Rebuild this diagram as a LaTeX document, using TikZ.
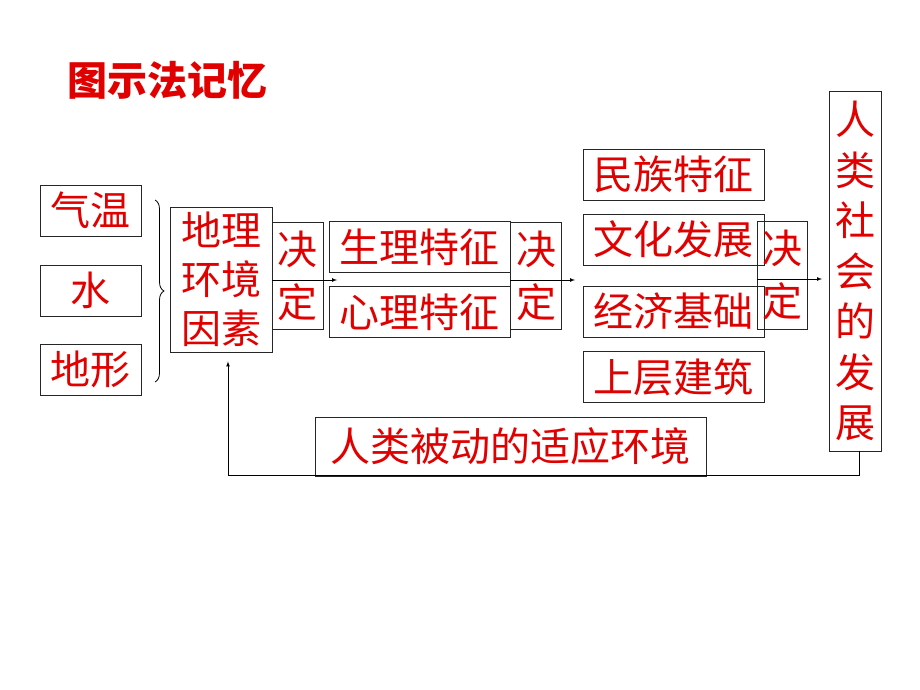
\documentclass[tikz,border=0pt]{standalone}
\usepackage{fontspec}
\usetikzlibrary{positioning,decorations.pathreplacing}
\newfontfamily\cjk{Noto Sans CJK SC}
\definecolor{myred}{RGB}{225,0,0}

\begin{document}
\begin{tikzpicture}[x=1pt,y=-1pt,
  box/.style={draw=black!85,line width=0.9pt,inner sep=0pt,text=myred,
    font=\cjk\fontsize{40}{49}\selectfont,align=center},
  factor/.style={box,minimum width=101pt,minimum height=51pt},
  trait/.style={box,minimum width=181pt,minimum height=51pt},
  decide/.style={box,minimum width=51pt,minimum height=107pt,
    font=\cjk\fontsize{40}{53}\selectfont},
  arr/.style={-latex,line width=0.7pt}
]
\useasboundingbox (0,0) rectangle (920,690);

% the title
\node[text=myred,font=\cjk\bfseries\fontsize{40}{48}\selectfont] (title) at (167,80) {图示法记忆};

% the natural factors
\node[factor] (qiwen) at (90.5,210.5) {气温};
\node[factor] (shui) at (90.5,290.5) {水};
\node[factor] (dixing) at (90.5,369.5) {地形};
\coordinate (bt) at (155,200);
\coordinate (bb) at (155,382);
\draw[decorate,decoration={brace,amplitude=9pt},line width=0.8pt] (bt) -- (bb);

% environment and what it decides
\node[box,minimum width=102pt,minimum height=145pt] (dili) at (221,279.5) {地理\\环境\\因素};
\node[decide] (jd1) at (297.5,275.5) {决\\定};
\node[trait] (shengli) at (419.5,247) {生理特征};
\node[trait] (xinli) at (419.5,312) {心理特征};
\node[decide] (jd2) at (536,275.5) {决\\定};

% the column of social traits
\node[trait] (minzu) at (673.5,174.5) {民族特征};
\node[trait] (wenhua) at (673.5,239.5) {文化发展};
\node[trait] (jingji) at (673.5,311.5) {经济基础};
\node[trait] (shangceng) at (673.5,377) {上层建筑};
\node[decide,minimum width=50pt,minimum height=108pt] (jd3) at (782,275) {决\\定};
\node[box,minimum width=52pt,minimum height=360pt,
  font=\cjk\fontsize{40}{50.5}\selectfont] (shehui) at (855,271) {人\\类\\社\\会\\的\\发\\展};

% the feedback
\node[box,minimum width=391pt,minimum height=59pt] (beidong) at (510.5,446.5) {人类被动的适应环境};

% the arrows
\coordinate (a1) at (337,280);
\coordinate (a2) at (575,280);
\coordinate (a3) at (822,279);
\draw[arr] (jd1.west |- a1) -- (a1);
\draw[arr] (jd2.west |- a2) -- (a2);
\draw[arr] (jd3.west |- a3) -- (a3);
\coordinate (fb) at (228,475);
\draw[arr] ([xshift=4pt]shehui.south) |- (fb) -- ([xshift=7pt,yshift=-9pt]dili.south);
\end{tikzpicture}
\end{document}
